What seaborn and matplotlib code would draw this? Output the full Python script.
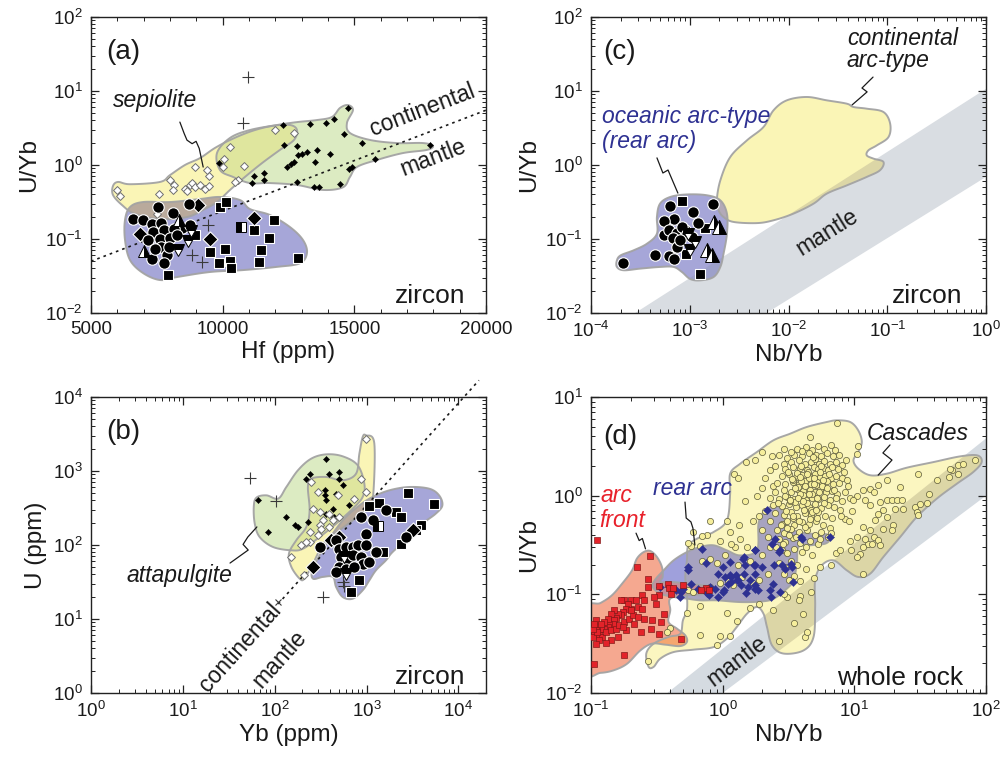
import numpy as np
import matplotlib
matplotlib.use("Agg")
import matplotlib.pyplot as plt
from matplotlib.patches import Polygon
from matplotlib.ticker import LogLocator, FuncFormatter, MultipleLocator, NullFormatter
import seaborn as sns

sns.set_theme(style="ticks")
plt.rcParams["font.family"] = ["Liberation Sans", "DejaVu Sans"]
plt.rcParams["mathtext.fontset"] = "custom"
plt.rcParams["mathtext.rm"] = "Liberation Sans"
plt.rcParams["mathtext.it"] = "Liberation Sans:italic"
plt.rcParams["mathtext.default"] = "regular"

# ----------------------------------------------------------------------------
# (a) zircon U/Yb vs Hf
# ----------------------------------------------------------------------------
a_circle_hf = [7543, 8732, 8099, 6594, 6973, 7328, 7657, 8453, 8770, 7353, 7758,
               8137, 7163, 7606, 8011, 8264, 7657, 7315, 7884, 7783, 7441, 7947]
a_circle_uyb = [0.27, 0.294, 0.227, 0.185, 0.179, 0.158, 0.164, 0.142, 0.153, 0.124, 0.131,
                0.138, 0.096, 0.101, 0.104, 0.112, 0.078, 0.054, 0.060, 0.047, 0.074, 0.078]
a_square_hf = [9908, 10136, 8959, 9503, 10098, 11958, 11173, 11755, 11452, 9845, 10288,
               10326, 11363, 12843, 7910]
a_square_uyb = [0.27, 0.316, 0.112, 0.0667, 0.074, 0.182, 0.134, 0.103, 0.0718, 0.047, 0.050,
                0.041, 0.049, 0.056, 0.033]
a_half_hf = [10705]
a_half_uyb = [0.145]
a_diamond_hf = [6872, 9503, 11173, 9048]
a_diamond_uyb = [0.118, 0.101, 0.194, 0.285]
a_up_hf = [8327, 7024]
a_up_uyb = [0.179, 0.069]
a_down_hf = [8795, 8669, 8289]
a_down_uyb = [0.128, 0.094, 0.072]
a_plus_hf = [10946, 10756, 9428, 8833, 9212]
a_plus_uyb = [15.5, 3.7, 0.156, 0.060, 0.049]
a_sep_hf = [5987, 6088, 7568, 8011, 8137, 8099, 8580, 8770, 8833, 8959, 9339, 9465, 9465,
            9402, 8959, 10035, 10010, 10288, 10794, 10566, 10477, 11995, 12691, 9149, 8643, 7505]
a_sep_uyb = [0.465, 0.378, 0.41, 0.62, 0.53, 0.455, 0.479, 0.531, 0.571, 0.505, 0.479, 0.515, 0.703,
             0.847, 0.94, 1.22, 0.94, 1.75, 0.96, 0.62, 0.59, 2.94, 2.7, 0.53, 0.44, 0.22]
a_att_hf = [9845, 11199, 11553, 11110, 11553, 12286, 12312, 12818, 12438, 12590, 12691,
            12856, 13007, 12818, 13197, 13298, 13577, 13513, 13931, 14209, 14778, 14589,
            14905, 15284, 15790, 17878, 13450, 13640, 14437, 14816, 14083]
a_att_uyb = [1.06, 0.70, 0.78, 0.57, 0.62, 3.43, 1.88, 1.79, 0.94, 1.02, 1.10,
             1.35, 1.42, 0.59, 1.5, 3.62, 1.61, 1.10, 3.7, 4.23, 5.96, 2.65,
             0.94, 1.98, 1.22, 1.85, 0.50, 0.50, 0.56, 0.89, 1.42]
a_blue_hf = [6291, 6481, 6974, 8000, 9139, 9898, 10658, 11037, 11797, 12556, 13050,
             13202, 12936, 12062, 10771, 9518, 8265, 7620, 6974, 6481, 6291]
a_blue_uyb = [0.181, 0.27, 0.316, 0.316, 0.347, 0.37, 0.336, 0.254, 0.211, 0.145, 0.097,
              0.065, 0.047, 0.042, 0.038, 0.0358, 0.0306, 0.0279, 0.0347, 0.052, 0.097]
a_yel_hf = [5835, 6025, 6481, 7620, 8000, 8569, 9139, 9708, 10354, 11113, 11873, 12556, 12822,
            12708, 12176, 11493, 10847, 10278, 9784, 9253, 8645, 7620, 6671, 6177, 5835]
a_yel_uyb = [0.52, 0.59, 0.55, 0.59, 0.73, 1.0, 1.24, 1.70, 2.24, 2.88, 3.37, 3.47, 2.97,
             2.18, 1.60, 1.06, 0.69, 0.46, 0.316, 0.247, 0.198, 0.186, 0.218, 0.288, 0.394]
a_grn_hf = [9784, 10278, 11037, 12062, 12822, 13581, 14151, 14455, 14758, 14948, 14720, 14834,
            15594, 16619, 17606, 17986, 17758, 16847, 15860, 15100, 14834, 14568, 13809, 12822,
            11797, 11037, 10392, 9898]
a_grn_uyb = [1.45, 2.32, 2.97, 3.47, 3.8, 4.05, 4.46, 5.9, 6.46, 5.53, 3.7, 2.71,
             2.18, 1.98, 1.98, 1.81, 1.6, 1.45, 1.17, 0.94, 0.69, 0.50, 0.46, 0.537,
             0.57, 0.57, 0.69, 0.855]
a_line_hf = [5000, 20000]
a_line_uyb = [0.05, 5.5]

# ----------------------------------------------------------------------------
# (b) zircon U vs Yb
# ----------------------------------------------------------------------------
b_circle_yb = [871, 1167, 1629, 988, 308, 467, 507, 600, 708, 802, 988, 1268,
               528, 625, 708, 871, 908, 1074, 507, 600, 738, 467, 2684]
b_circle_u = [239, 215, 294, 142, 94, 116, 89, 94, 94, 99, 99, 80.4,
              68.9, 62.1, 72.4, 68.9, 56, 58.9, 50.5, 47.9, 50.5, 43.2, 128]
b_square_yb = [2797, 5445, 1377, 1074, 2089, 2366, 3902, 3443, 2366, 1497, 836, 679]
b_square_u = [505, 362, 370, 334, 279, 239, 185, 158, 104, 80.4, 33.3, 23.2]
b_half_yb = [1322]
b_half_u = [179]
b_diamond_yb = [261, 412, 507, 3170]
b_diamond_u = [50.5, 116, 128, 161]
b_down_yb = [575, 600]
b_down_u = [68.9, 41]
b_plus_yb = [53.5, 104, 334, 551, 575]
b_plus_u = [813, 389, 19.8, 31.6, 27.6]
b_cross_yb = [109]
b_cross_u = [17]
b_sep_yb = [988, 250, 295, 487, 738, 871, 988, 261, 308, 395, 507, 334, 308, 321,
            240, 295, 240, 195, 221, 152, 211, 430, 395]
b_sep_u = [2735, 710, 520, 469, 423, 787, 520, 310, 279, 265, 239, 215, 185, 166,
           150, 135, 110, 99, 110, 68.9, 38.9, 215, 175]
b_att_yb = [364, 240, 395, 507, 507, 551, 221, 349, 349, 364, 467, 430, 364, 165,
            179, 134, 65.9, 84.7, 230, 448, 651]
b_att_u = [1468, 920, 920, 968, 787, 640, 787, 548, 469, 402, 494, 310, 265, 185,
           175, 239, 402, 150, 205, 239, 343]
b_grn_yb = [59.2, 63.2, 81.2, 109, 134, 179, 250, 364, 551, 802, 947, 908, 708, 467,
            308, 203, 152, 95.9, 68.7, 60.7]
b_grn_u = [327, 436, 469, 423, 608, 1021, 1468, 1679, 1578, 1194, 675, 446, 310, 194,
           128, 89, 84.7, 94, 128, 194]
b_yel_yb = [988, 1217, 1167, 988, 708, 507, 364, 308, 261, 211, 187, 152, 143, 172,
            221, 240, 230, 250, 364, 551, 769, 836, 908]
b_yel_u = [3034, 2339, 402, 294, 215, 158, 116, 84.7, 56, 35.1, 35.1, 50.5, 76.4, 116,
           175, 294, 608, 787, 830, 748, 920, 1714, 2877]
b_blue_yb = [261, 364, 551, 836, 1167, 1770, 2917, 4808, 6170, 6700, 5675, 4067, 2917,
             1923, 1629, 1268, 1074, 908, 708, 551, 467, 430, 334, 261]
b_blue_u = [47.9, 104, 215, 343, 446, 548, 608, 577, 469, 343, 265, 194, 128,
            80.4, 62.1, 45.5, 33.3, 24.4, 18.8, 19.8, 27, 37, 37, 35.1]
b_line_yb = [109, 16750]
b_line_u = [16, 16800]

# ----------------------------------------------------------------------------
# (c) zircon U/Yb vs Nb/Yb
# ----------------------------------------------------------------------------
c_circle_nbyb = [2.09e-4, 4.44e-4, 6.2e-4, 6.97e-4, 6.35e-4, 6.97e-4, 5.43e-4, 5.52e-4, 6.1e-4,
                 7.41e-4, 6.76e-4, 7.41e-4, 8.87e-4, 1.08e-3, 1.21e-3, 1.7e-3, 8.33e-4,
                 9.35e-4, 1.05e-3, 8.0e-4]
c_circle_uyb = [0.0474, 0.0614, 0.0596, 0.0542, 0.279, 0.185, 0.175, 0.115, 0.131,
                0.122, 0.104, 0.078, 0.131, 0.229, 0.164, 0.294, 0.145,
                0.118, 0.106, 0.098]
c_square_nbyb = [8.4e-4, 1.42e-3, 1.28e-3, 9.14e-4]
c_square_uyb = [0.323, 0.141, 0.034, 0.062]
c_up_nbyb = [1.74e-3, 1.96e-3, 1.49e-3, 1.68e-3]
c_up_uyb = [0.17, 0.145, 0.0703, 0.0602]
c_down_nbyb = [9.7e-4, 1.14e-3, 1.01e-3]
c_down_uyb = [0.118, 0.091, 0.0703]
c_blue_nbyb = [1.83e-4, 2.0e-4, 2.7e-4, 3.69e-4, 4.65e-4, 4.65e-4, 5.0e-4, 6.35e-4, 9.35e-4,
               1.49e-3, 2.04e-3, 2.38e-3, 2.38e-3, 2.2e-3, 2.04e-3, 1.74e-3, 1.28e-3,
               1.01e-3, 8.33e-4, 6.86e-4, 5.0e-4, 3.16e-4, 2.14e-4, 1.83e-4]
c_blue_uyb = [0.0515, 0.0602, 0.0703, 0.0865, 0.118, 0.198, 0.3, 0.37, 0.40,
              0.39, 0.333, 0.22, 0.118, 0.0634, 0.0419, 0.0306, 0.0276,
              0.0288, 0.0358, 0.0419, 0.0419, 0.0398, 0.0378, 0.0419]
c_yel_nbyb = [1.88e-3, 2.04e-3, 2.57e-3, 3.79e-3, 5.58e-3, 7.05e-3, 9.62e-3, 1.53e-2, 2.44e-2,
              3.89e-2, 4.55e-2, 6.2e-2, 9.15e-2, 0.107, 0.103, 7.83e-2, 6.45e-2, 6.2e-2,
              7.24e-2, 9.15e-2, 8.45e-2, 6.2e-2, 3.89e-2, 2.44e-2, 1.79e-2, 1.12e-2,
              7.05e-3, 4.78e-3, 2.78e-3, 2.2e-3, 1.96e-3]
c_yel_uyb = [0.333, 0.62, 1.28, 2.15, 3.26, 5.48, 7.48, 8.3, 7.48,
             6.74, 6.08, 5.77, 5.2, 3.62, 2.39, 1.84, 1.58, 1.35,
             1.22, 1.10, 0.85, 0.69, 0.53, 0.41, 0.3, 0.22,
             0.179, 0.164, 0.17, 0.198, 0.244]
c_band_nbyb = [2.8e-4, 1.0, 1.0, 6.0e-3]
c_band_uyb = [0.01, 10.7, 0.69, 0.01]

# ----------------------------------------------------------------------------
# (d) whole rock U/Yb vs Nb/Yb
# ----------------------------------------------------------------------------
cascades_nbyb = [
    7.4, 4.6, 2.9, 2.0, 1.5, 1.75, 2.35, 1.21, 1.3, 1.48, 1.82,
    1.08, 1.14, 1.33, 1.36, 0.76, 0.67, 0.57, 0.9, 1.25, 1.53, 0.55, 0.7,
    0.67, 0.54, 0.40, 0.38, 0.27, 0.67, 0.96, 0.9, 1.14, 1.28, 1.6, 1.9,
    2.43, 2.7, 3.5, 4.1, 4.2, 4.35, 3.9, 3.8, 3.07, 2.9, 3.3, 3.9,
    4.7, 4.9, 5.5, 6.6, 7.3, 7.8, 9.2, 0.55, 0.6, 0.8, 0.95, 1.1,
    1.2, 1.4, 1.7, 1.9, 2.2, 1.3, 1.6, 2.0, 2.3, 0.8, 1.05, 0.95,
    1.15, 0.6, 0.8, 0.7, 2.1, 2.3, 2.0, 2.5, 2.7, 1.9, 2.1, 1.7,
    2.0, 2.2, 1.07,
    3.7, 4.3, 4.8, 5.3, 5.9, 6.6, 7.1,
    3.1, 3.5, 4.0, 4.5, 5.1, 5.6, 6.2, 6.9, 7.6,
    2.9, 3.3, 3.8, 4.2, 4.7, 5.0, 5.4, 5.9, 6.5, 7.2, 8.0,
    3.0, 3.4, 3.9, 4.4, 4.9, 5.3, 5.8, 6.3, 6.8, 7.5, 8.4,
    2.8, 3.2, 3.6, 4.0, 4.5, 5.0, 5.5, 6.0, 6.6, 7.3, 8.1, 8.8,
    2.4, 2.6, 3.0, 3.4, 3.8, 4.2, 4.7, 5.2, 5.7, 6.2, 6.9, 7.7,
    2.5, 2.9, 3.3, 3.7, 4.1, 4.6, 5.0, 5.5, 6.1, 6.8, 7.4, 8.5,
    2.3, 2.7, 3.1, 3.5, 3.9, 4.3, 4.8, 5.3, 5.9, 6.5, 7.2, 8.0,
    2.4, 2.8, 3.2, 3.6, 4.0, 4.5, 5.0, 5.6, 6.3, 7.0, 7.8,
    2.5, 2.9, 3.3, 3.7, 4.2, 4.7, 5.3, 6.0, 6.8, 8.5,
    2.3, 2.8, 3.1, 3.5, 4.0, 4.5, 5.1, 5.8, 6.5,
    2.6, 2.9, 3.3, 3.8, 4.4, 5.0, 5.6, 6.3,
    2.7, 3.0, 3.4, 3.9, 4.6, 5.3,
    2.8, 3.1, 3.5, 4.0, 4.8,
    2.7, 3.0, 3.3, 3.7, 4.3, 2.9, 3.2, 3.5,
    3.15, 3.45, 3.75, 4.1, 4.35, 4.65, 5.15, 5.45, 3.55, 3.85, 4.15, 4.55, 4.85, 5.25, 3.25, 3.95, 4.75, 5.65,
    8.9, 9.3, 9.6, 8.7, 9.1,
    3.35, 3.65, 3.95, 4.25, 4.55, 4.95, 5.35, 5.75, 6.15,
    2.95, 3.25, 3.55, 3.85, 4.45, 4.9, 5.6, 6.4, 7.0,
    2.65, 3.05, 3.4, 3.75, 4.05, 4.4, 4.8, 5.2, 5.9,
    2.75, 3.1, 3.45, 3.8, 4.2, 4.6, 5.1,
    2.55, 2.85, 3.2, 3.6, 4.3, 5.5, 6.7, 7.9, 3.3, 4.0,
    10.4, 10.6, 30.7, 42.8, 52.7, 54.9, 61.7, 67.3, 82.6, 61.7, 53.3, 22.3,
    17.6, 15.2, 13.2, 14.0, 11.7, 10.4, 12.1, 9.85, 13.2, 15.7, 17.6, 19.2,
    21.0, 22.9, 20.4, 23.6, 16.6, 15.2, 14.4, 17.6, 19.8, 19.2, 16.6, 11.7,
    13.2, 14.0, 15.2, 12.8, 11.7, 12.1, 11.1, 11.7, 13.6, 15.7, 10.4, 28.9,
    31.6, 35.5, 29.8, 30.7, 36.6, 9.5, 10.4,
]
cascades_uyb = [
    5.5, 3.9, 3.0, 2.8, 2.2, 2.3, 2.55, 1.67, 1.5, 0.88, 1.0,
    0.56, 0.43, 0.5, 0.36, 0.4, 0.31, 0.31, 0.21, 0.3, 0.3, 0.33, 0.39,
    0.077, 0.064, 0.046, 0.042, 0.021, 0.039, 0.038, 0.031, 0.038, 0.054, 0.073, 0.08,
    0.07, 0.034, 0.051, 0.063, 0.037, 0.042, 0.097, 0.087, 0.093, 0.1, 0.14, 0.135,
    0.105, 0.148, 0.19, 0.2, 0.26, 0.28, 0.35, 0.11, 0.105, 0.12, 0.13, 0.135,
    0.125, 0.15, 0.13, 0.14, 0.16, 0.2, 0.22, 0.25, 0.3, 0.23, 0.25, 0.35,
    0.32, 0.43, 0.55, 0.22, 1.5, 1.8, 1.2, 2.0, 2.6, 0.62, 0.7, 0.55,
    0.45, 0.38, 0.064,
    3.0, 3.1, 2.9, 3.2, 3.0, 3.3, 2.9,
    2.4, 2.6, 2.5, 2.7, 2.6, 2.5, 2.7, 2.5, 2.6,
    2.1, 2.2, 2.3, 2.1, 2.2, 2.35, 2.1, 2.25, 2.1, 2.2, 2.05,
    1.85, 1.95, 1.9, 1.8, 1.95, 1.85, 1.9, 1.8, 1.95, 1.85, 1.75,
    1.6, 1.65, 1.55, 1.62, 1.58, 1.65, 1.55, 1.6, 1.52, 1.6, 1.5, 1.45,
    1.25, 1.35, 1.3, 1.38, 1.3, 1.4, 1.32, 1.38, 1.3, 1.42, 1.3, 1.35,
    1.1, 1.15, 1.1, 1.18, 1.12, 1.15, 1.08, 1.17, 1.1, 1.12, 1.05, 1.1,
    0.95, 0.92, 0.98, 0.93, 0.97, 0.9, 0.95, 0.92, 0.96, 0.9, 0.95, 0.88,
    0.8, 0.78, 0.82, 0.76, 0.8, 0.77, 0.82, 0.75, 0.8, 0.76, 0.72,
    0.66, 0.64, 0.68, 0.62, 0.66, 0.63, 0.68, 0.62, 0.6, 0.58,
    0.55, 0.52, 0.56, 0.5, 0.54, 0.52, 0.56, 0.5, 0.47,
    0.45, 0.42, 0.46, 0.43, 0.45, 0.4, 0.43, 0.38,
    0.36, 0.34, 0.37, 0.33, 0.35, 0.32,
    0.28, 0.26, 0.29, 0.27, 0.25,
    0.21, 0.19, 0.22, 0.2, 0.18, 0.16, 0.14, 0.155,
    1.75, 1.45, 1.22, 1.02, 0.85, 0.72, 1.28, 1.72, 0.87, 1.05, 0.71, 1.5, 2.45, 0.6, 0.88, 2.0, 1.04, 1.25,
    1.25, 0.95, 0.7, 2.3, 0.55,
    1.48, 1.7, 1.42, 1.25, 1.05, 1.3, 1.1, 1.45, 1.2,
    1.0, 0.9, 1.2, 1.55, 1.75, 1.5, 2.0, 1.65, 1.15,
    0.85, 0.7, 0.6, 0.95, 0.88, 1.65, 0.68, 0.95, 0.85,
    0.5, 0.47, 0.62, 0.55, 0.48, 0.58, 0.72,
    0.3, 0.32, 0.4, 0.38, 0.3, 0.36, 0.42, 0.62, 2.8, 2.85,
    2.66, 3.2, 1.67, 1.45, 1.55, 1.81, 2.03, 2.11, 2.28, 1.67, 1.88, 1.22,
    1.43, 1.27, 1.18, 1.09, 1.13, 1.0, 0.897, 0.897, 0.8, 0.86, 0.91, 0.897,
    0.91, 0.91, 0.74, 0.74, 0.71, 0.657, 0.562, 0.61, 0.5, 0.446, 0.463, 0.481,
    0.446, 0.381, 0.352, 0.326, 0.302, 0.366, 0.258, 0.162, 0.326, 0.314, 0.381, 0.767,
    0.83, 0.84, 0.68, 0.63, 1.05, 0.28, 0.24,
]
rear_arc_nbyb = [2.18, 6.55, 3.99, 2.36, 2.74, 1.77, 1.44, 1.72, 1.99, 2.82, 3.35, 1.14, 1.44,
                 1.28, 1.62, 2.3, 2.74, 1.77, 1.02, 0.782, 0.544, 0.544, 0.332, 0.445, 0.485,
                 0.471, 0.499, 0.577, 0.648, 0.795, 0.868, 0.759, 0.92, 1.0, 1.1, 0.92, 1.04,
                 1.16, 1.27, 1.16, 1.31, 1.38, 1.56, 1.75, 1.85, 1.51, 2.34, 1.75, 2.41, 2.7,
                 1.75, 1.47, 1.43, 1.75, 3.31, 3.41, 2.45, 2.95, 3.94, 1.13, 1.0, 2.5, 0.695, 0.746]
rear_arc_uyb = [0.71, 0.381, 0.366, 0.326, 0.279, 0.279, 0.239, 0.197, 0.189, 0.197, 0.189, 0.156, 0.162,
                0.139, 0.139, 0.11, 0.106, 0.114, 0.11, 0.098, 0.189, 0.175, 0.119, 0.11, 0.106,
                0.094, 0.114, 0.128, 0.114, 0.119, 0.114, 0.102, 0.094, 0.106, 0.128, 0.162, 0.15,
                0.15, 0.156, 0.133, 0.139, 0.123, 0.119, 0.123, 0.11, 0.102, 0.094, 0.162, 0.128, 0.268,
                0.279, 0.197, 0.23, 0.197, 0.205, 0.133, 0.197, 0.182, 0.381, 0.213, 0.189, 0.366, 0.29, 0.21]
arc_front_nbyb = [0.178, 0.201, 0.219, 0.246, 0.254, 0.269, 0.33, 0.382, 0.405, 0.311,
                  0.226, 0.246, 0.201, 0.19, 0.184, 0.174, 0.169, 0.159, 0.155, 0.150,
                  0.146, 0.138, 0.134, 0.126, 0.119, 0.112, 0.109, 0.106, 0.103, 0.116,
                  0.122, 0.130, 0.142, 0.155, 0.164, 0.179, 0.196, 0.207, 0.226, 0.254,
                  0.293, 0.34, 0.36, 0.184, 0.159, 0.142, 0.130, 0.116, 0.109, 0.179,
                  0.239, 0.285, 0.33, 0.106, 0.109, 0.174, 0.213, 0.201, 0.111, 0.282,
                  0.222, 0.169, 0.150, 0.142, 0.134, 0.126, 0.119, 0.112, 0.103, 0.105,
                  0.393, 0.417, 0.746, 0.787, 0.685, 0.496, 0.272, 0.33, 0.302, 0.482]
arc_front_uyb = [0.0885, 0.087, 0.0885, 0.099, 0.087, 0.119, 0.121, 0.128, 0.100, 0.0805,
                 0.0745, 0.0717, 0.0717, 0.0805, 0.0717, 0.0662, 0.0613, 0.0637, 0.058, 0.0546,
                 0.0505, 0.050, 0.0467, 0.045, 0.045, 0.0467, 0.0432, 0.040, 0.037, 0.0385,
                 0.037, 0.0415, 0.0432, 0.045, 0.0486, 0.0525, 0.0568, 0.0613, 0.059, 0.0568,
                 0.0546, 0.0525, 0.0637, 0.0432, 0.037, 0.0342, 0.032, 0.0342, 0.0316, 0.0241,
                 0.0415, 0.045, 0.0394, 0.0198, 0.0546, 0.0467, 0.0505, 0.069, 0.358, 0.245,
                 0.189, 0.087, 0.0689, 0.0637, 0.0568, 0.0525, 0.0505, 0.0415, 0.045, 0.05,
                 0.117, 0.115, 0.115, 0.111, 0.111, 0.123, 0.144, 0.098, 0.094, 0.0355]
d_yel_nbyb = [0.274, 0.263, 0.299, 0.388, 0.476, 0.499, 0.535, 0.535, 0.52, 0.535, 0.551, 0.676,
              0.853, 1.077, 1.14, 1.14, 1.36, 1.82, 2.43, 3.26, 4.36, 6.18, 7.36, 9.29, 10.7,
              11.4, 10.7, 9.85, 10.7, 13.2, 17.6, 25, 39.9, 63.5, 85.9, 92.7, 80.2, 60, 42.3,
              29.8, 22.3, 16.6, 13.2, 10.7, 8.77, 6.95, 5.66, 5.04, 5.04, 4.9, 4.11, 2.9, 2.37,
              2.17, 2.04, 1.82, 1.53, 1.28, 1.077, 0.853, 0.601, 0.424, 0.336, 0.299]
d_yel_uyb = [0.0184, 0.0251, 0.0316, 0.037, 0.0399, 0.0545, 0.0689, 0.1016, 0.15, 0.221, 0.314, 0.381,
             0.428, 0.562, 1.05, 1.67, 2.11, 2.77, 3.64, 4.25, 4.97, 5.58, 5.8, 5.58, 4.59,
             3.5, 2.77, 2.28, 1.88, 1.61, 1.67, 1.92, 2.19, 2.5, 2.56, 2.19, 1.74, 1.32, 0.933,
             0.608, 0.381, 0.239, 0.162, 0.15, 0.175, 0.221, 0.197, 0.139, 0.0745, 0.037, 0.027, 0.0251, 0.0304,
             0.0467, 0.0637, 0.0745, 0.0637, 0.0467, 0.0356, 0.0292, 0.0275, 0.026, 0.0223, 0.0184]
d_red_nbyb = [0.09, 0.118, 0.144, 0.172, 0.205, 0.223, 0.251, 0.282, 0.317, 0.346, 0.35, 0.336,
              0.424, 0.601, 0.805, 0.853, 0.759, 0.535, 0.4, 0.4, 0.388, 0.45, 0.52, 0.535,
              0.476, 0.366, 0.29, 0.237, 0.188, 0.149, 0.118, 0.09]
d_red_uyb = [0.0689, 0.0817, 0.0977, 0.128, 0.175, 0.23, 0.268, 0.275, 0.239, 0.189, 0.15, 0.133,
             0.133, 0.126, 0.12, 0.11, 0.1016, 0.0977, 0.0904, 0.0689, 0.0525, 0.0449, 0.0384, 0.0329,
             0.0299, 0.0309, 0.0316, 0.027, 0.0198, 0.017, 0.016, 0.0163]
d_pur_nbyb = [0.305, 0.356, 0.424, 0.535, 0.676, 0.853, 1.077, 1.36, 1.82, 1.87, 2.04, 2.3, 2.65,
              2.9, 2.98, 3.45, 4.62, 6.18, 6.55, 6.0, 4.62, 3.77, 3.66, 3.45, 3.07, 2.43, 1.93,
              1.36, 0.904, 0.676, 0.535, 0.424, 0.336, 0.295]
d_pur_uyb = [0.139, 0.175, 0.221, 0.268, 0.302, 0.314, 0.279, 0.248, 0.279, 0.52, 0.682, 0.767, 0.767,
             0.657, 0.52, 0.446, 0.412, 0.406, 0.366, 0.326, 0.314, 0.302, 0.205, 0.139, 0.114, 0.09, 0.0845,
             0.0835, 0.0869, 0.0869, 0.0904, 0.094, 0.1016, 0.1186]
d_band_nbyb = [0.38, 100, 100, 1.0]
d_band_uyb = [0.01, 3.8, 1.0, 0.01]

# ----------------------------------------------------------------------------
# colours
# ----------------------------------------------------------------------------
ZIRC_BLUE = "#a6a6d8"
YELLOW = "#faf5b6"
GREEN = "#dcebc2"
YEL_ON_BLUE = "#b9aa9c"
YEL_ON_GREEN = "#dfe69e"
GRN_ON_BLUE = "#aab4b6"
BAND_C = "#d9dde2"
BAND_D = "#d5dbe1"
YEL_ON_BAND = "#dcd6a6"
BLUE_ON_BAND = "#9da0ca"
YEL_ON_ZBLUE_C = "#b3aab8"
D_YELLOW = "#fbf6c0"
D_RED = "#f5a890"
D_PURPLE = "#9fa0dc"
PUR_ON_YEL = "#a7a3c0"
RED_ON_YEL = "#f5a66f"
RED_ON_PUR = "#c4909c"
EDGE = "#a3a3a3"
INK = "#1a1a1a"
NAVY = "#2e3192"
RED_TXT = "#e8212b"


def smooth_closed(xs, ys, xlog, ylog, n=14):
    """Closed Catmull-Rom outline through the given vertices (in axis space)."""
    x = np.log10(np.asarray(xs, float)) if xlog else np.asarray(xs, float)
    y = np.log10(np.asarray(ys, float)) if ylog else np.asarray(ys, float)
    P = np.column_stack([x, y])
    m = len(P)
    t = np.linspace(0.0, 1.0, n, endpoint=False)[:, None]
    segs = []
    for i in range(m):
        p0, p1, p2, p3 = P[(i - 1) % m], P[i], P[(i + 1) % m], P[(i + 2) % m]
        segs.append(0.5 * (2 * p1 + (p2 - p0) * t
                           + (2 * p0 - 5 * p1 + 4 * p2 - p3) * t ** 2
                           + (3 * p1 - p0 - 3 * p2 + p3) * t ** 3))
    S = np.vstack(segs)
    if xlog:
        S[:, 0] = 10 ** S[:, 0]
    if ylog:
        S[:, 1] = 10 ** S[:, 1]
    return S


def fill_region(ax, verts, color, z=1.0):
    p = Polygon(verts, closed=True, facecolor=color, edgecolor="none", zorder=z)
    ax.add_patch(p)
    return p


def fill_overlap(ax, verts, clip_patch, color, z=1.5):
    p = Polygon(verts, closed=True, facecolor=color, edgecolor="none", zorder=z)
    ax.add_patch(p)
    p.set_clip_path(clip_patch)
    return p


def outline(ax, verts, z=2.0):
    ax.add_patch(Polygon(verts, closed=True, fill=False, edgecolor=EDGE,
                         linewidth=1.4, zorder=z, alpha=0.95))


def dots(ax, x, y, marker, s, fc, ec, lw, z=5):
    sns.scatterplot(x=x, y=y, ax=ax, marker=marker, s=s, color=fc,
                    edgecolor=ec, linewidth=lw, zorder=z, legend=False)


def half_marker(ax, x, y, marker, ms, fill, z=6):
    ax.plot(x, y, ls="none", marker=marker, ms=ms, fillstyle=fill,
            markerfacecolor="black", markerfacecoloralt="white",
            markeredgecolor="black", markeredgewidth=0.7, zorder=z)


def pluses(ax, x, y, z=5):
    ax.plot(x, y, ls="none", marker="+", ms=9, mew=0.8, color="#3a3a3a", zorder=z)


def squiggle(ax, pts):
    xs, ys = zip(*pts)
    ax.plot(xs, ys, transform=ax.transAxes, color=INK, lw=0.9, zorder=7,
            solid_capstyle="round", solid_joinstyle="round")


def pow10(v, pos):
    return r"$10^{%d}$" % int(round(np.log10(v)))


def log_axis(axis):
    axis.set_major_locator(LogLocator(base=10, numticks=20))
    axis.set_minor_locator(LogLocator(base=10, subs=np.arange(2, 10), numticks=60))
    axis.set_minor_formatter(NullFormatter())
    axis.set_major_formatter(FuncFormatter(pow10))


def style(ax):
    for sp in ax.spines.values():
        sp.set_visible(True)
        sp.set_linewidth(1.0)
        sp.set_color("#222222")
    ax.tick_params(which="both", direction="in", top=True, right=True,
                   colors="#222222", labelcolor=INK)
    ax.tick_params(which="major", length=5.5, width=0.9, labelsize=13.5, pad=6)
    ax.tick_params(which="minor", length=3.0, width=0.7)
    ax.set_facecolor("white")


def label_text(ax, x, y, s, size=16.5, **kw):
    ax.text(x, y, s, transform=ax.transAxes, fontsize=size, color=kw.pop("color", INK),
            zorder=8, **kw)


# zircon symbol sizes (points^2)
S_CIRC, S_SQ, S_DIA = 68, 60, 58

W, H = 1004, 770
fig = plt.figure(figsize=(W / 100, H / 100), dpi=100)


def axes_at(left_px, top_px):
    return fig.add_axes([left_px / W, 1 - (top_px + 296) / H, 395 / W, 296 / H])


ax_a = axes_at(91, 17)
ax_c = axes_at(591, 17)
ax_b = axes_at(91, 397)
ax_d = axes_at(591, 397)

# ----------------------------- panel (a) ------------------------------------
ax = ax_a
ax.set_yscale("log")
v_blue = smooth_closed(a_blue_hf, a_blue_uyb, False, True)
v_grn = smooth_closed(a_grn_hf, a_grn_uyb, False, True)
v_yel = smooth_closed(a_yel_hf, a_yel_uyb, False, True)
p_blue = fill_region(ax, v_blue, ZIRC_BLUE)
p_grn = fill_region(ax, v_grn, GREEN)
fill_region(ax, v_yel, YELLOW, z=1.1)
fill_overlap(ax, v_yel, p_blue, YEL_ON_BLUE)
fill_overlap(ax, v_yel, p_grn, YEL_ON_GREEN)
for v in (v_blue, v_grn, v_yel):
    outline(ax, v)
ax.plot(a_line_hf, a_line_uyb, ls=(0, (1.6, 2.4)), color=INK, lw=1.2, zorder=3)
dots(ax, a_att_hf, a_att_uyb, "D", 10, "black", "black", 0.3)
dots(ax, a_sep_hf, a_sep_uyb, "D", 16, "white", "#6f6f6f", 0.7)
dots(ax, a_square_hf, a_square_uyb, "s", S_SQ, "black", "white", 0.8)
dots(ax, a_diamond_hf, a_diamond_uyb, "D", S_DIA, "black", "white", 0.8)
dots(ax, a_circle_hf, a_circle_uyb, "o", S_CIRC, "black", "white", 0.8)
half_marker(ax, a_half_hf, a_half_uyb, "s", 7.6, "left")
half_marker(ax, a_up_hf, a_up_uyb, "^", 9, "right")
half_marker(ax, a_down_hf, a_down_uyb, "v", 9, "top")
pluses(ax, a_plus_hf, a_plus_uyb)
ax.set_xlim(5000, 20000)
ax.set_ylim(1e-2, 1e2)
ax.xaxis.set_major_locator(MultipleLocator(5000))
ax.xaxis.set_minor_locator(MultipleLocator(1000))
ax.xaxis.set_major_formatter(FuncFormatter(lambda v, p: "%d" % v))
log_axis(ax.yaxis)
style(ax)
ax.set_xlabel("Hf (ppm)", fontsize=17.5, color=INK, labelpad=2)
ax.set_ylabel("U/Yb", fontsize=17.5, color=INK, labelpad=4)
label_text(ax, 0.081, 0.882, "(a)", size=20, ha="center", va="center")
label_text(ax, 0.056, 0.696, "sepiolite", style="italic", ha="left", va="baseline")
label_text(ax, 0.84, 0.686, "continental", rotation=21, rotation_mode="anchor",
           ha="center", va="center")
label_text(ax, 0.866, 0.524, "mantle", rotation=21, rotation_mode="anchor",
           ha="center", va="center")
label_text(ax, 0.947, 0.034, "zircon", size=19, ha="right", va="baseline")
squiggle(ax, [(0.225, 0.645), (0.236, 0.606), (0.243, 0.584), (0.256, 0.572),
              (0.266, 0.580), (0.274, 0.556), (0.284, 0.493)])

# ----------------------------- panel (b) ------------------------------------
ax = ax_b
ax.set_xscale("log")
ax.set_yscale("log")
v_grn = smooth_closed(b_grn_yb, b_grn_u, True, True)
v_yel = smooth_closed(b_yel_yb, b_yel_u, True, True)
v_blue = smooth_closed(b_blue_yb, b_blue_u, True, True)
p_blue = fill_region(ax, v_blue, ZIRC_BLUE)
p_grn = fill_region(ax, v_grn, GREEN)
fill_region(ax, v_yel, YELLOW, z=1.1)
fill_overlap(ax, v_grn, p_blue, GRN_ON_BLUE)
fill_overlap(ax, v_yel, p_blue, YEL_ON_BLUE, z=1.6)
fill_overlap(ax, v_yel, p_grn, YEL_ON_GREEN, z=1.6)
for v in (v_blue, v_grn, v_yel):
    outline(ax, v)
ax.plot(b_line_yb, b_line_u, ls=(0, (1.6, 2.4)), color=INK, lw=1.2, zorder=3, clip_on=False)
dots(ax, b_att_yb, b_att_u, "D", 10, "black", "black", 0.3)
dots(ax, b_sep_yb, b_sep_u, "D", 16, "white", "#6f6f6f", 0.7)
dots(ax, b_square_yb, b_square_u, "s", S_SQ, "black", "white", 0.8)
dots(ax, b_diamond_yb, b_diamond_u, "D", S_DIA, "black", "white", 0.8)
dots(ax, b_circle_yb, b_circle_u, "o", S_CIRC, "black", "white", 0.8)
half_marker(ax, b_half_yb, b_half_u, "s", 7.6, "left")
half_marker(ax, b_down_yb, b_down_u, "v", 9, "top")
pluses(ax, b_plus_yb, b_plus_u)
ax.plot(b_cross_yb, b_cross_u, ls="none", marker="x", ms=5, mew=0.8, color="#3a3a3a", zorder=5)
ax.set_xlim(1, 2e4)
ax.set_ylim(1, 1e4)
log_axis(ax.xaxis)
log_axis(ax.yaxis)
style(ax)
ax.set_xlabel("Yb (ppm)", fontsize=17.5, color=INK, labelpad=2)
ax.set_ylabel("U (ppm)", fontsize=17.5, color=INK, labelpad=4)
label_text(ax, 0.081, 0.882, "(b)", size=20, ha="center", va="center")
label_text(ax, 0.089, 0.375, "attapulgite", style="italic", ha="left", va="baseline")
label_text(ax, 0.377, 0.153, "continental", rotation=48, rotation_mode="anchor",
           ha="center", va="center")
label_text(ax, 0.477, 0.114, "mantle", rotation=48, rotation_mode="anchor",
           ha="center", va="center")
label_text(ax, 0.947, 0.030, "zircon", size=19, ha="right", va="baseline")
squiggle(ax, [(0.42, 0.561), (0.397, 0.527), (0.385, 0.502), (0.398, 0.483), (0.352, 0.439)])

# ----------------------------- panel (c) ------------------------------------
ax = ax_c
ax.set_xscale("log")
ax.set_yscale("log")
v_band = np.column_stack([c_band_nbyb, c_band_uyb])
v_blue = smooth_closed(c_blue_nbyb, c_blue_uyb, True, True)
v_yel = smooth_closed(c_yel_nbyb, c_yel_uyb, True, True)
p_band = fill_region(ax, v_band, BAND_C, z=0.5)
p_blue = fill_region(ax, v_blue, ZIRC_BLUE)
fill_region(ax, v_yel, YELLOW, z=1.1)
fill_overlap(ax, v_blue, p_band, BLUE_ON_BAND)
fill_overlap(ax, v_yel, p_band, YEL_ON_BAND)
fill_overlap(ax, v_yel, p_blue, YEL_ON_ZBLUE_C)
for v in (v_blue, v_yel):
    outline(ax, v)
dots(ax, c_square_nbyb, c_square_uyb, "s", S_SQ, "black", "white", 0.8)
dots(ax, c_circle_nbyb, c_circle_uyb, "o", S_CIRC, "black", "white", 0.8)
half_marker(ax, c_up_nbyb, c_up_uyb, "^", 9.5, "right")
half_marker(ax, c_down_nbyb, c_down_uyb, "v", 9, "top")
ax.set_xlim(1e-4, 1)
ax.set_ylim(1e-2, 1e2)
log_axis(ax.xaxis)
log_axis(ax.yaxis)
style(ax)
ax.set_xlabel("Nb/Yb", fontsize=17.5, color=INK, labelpad=2)
ax.set_ylabel("U/Yb", fontsize=17.5, color=INK, labelpad=4)
label_text(ax, 0.073, 0.882, "(c)", size=20, ha="center", va="center")
label_text(ax, 0.648, 0.905, "continental", style="italic", ha="left", va="baseline")
label_text(ax, 0.648, 0.831, "arc-type", style="italic", ha="left", va="baseline")
label_text(ax, 0.028, 0.642, "oceanic arc-type", style="italic", ha="left", va="baseline", color=NAVY)
label_text(ax, 0.028, 0.557, "(rear arc)", style="italic", ha="left", va="baseline", color=NAVY)
label_text(ax, 0.597, 0.274, "mantle", rotation=32, rotation_mode="anchor",
           ha="center", va="center")
label_text(ax, 0.939, 0.034, "zircon", size=19, ha="right", va="baseline")
squiggle(ax, [(0.714, 0.797), (0.686, 0.760), (0.699, 0.747), (0.661, 0.703)])
squiggle(ax, [(0.167, 0.524), (0.182, 0.473), (0.195, 0.483), (0.220, 0.405)])

# ----------------------------- panel (d) ------------------------------------
ax = ax_d
ax.set_xscale("log")
ax.set_yscale("log")
v_band = np.column_stack([d_band_nbyb, d_band_uyb])
v_yel = smooth_closed(d_yel_nbyb, d_yel_uyb, True, True)
v_red = smooth_closed(d_red_nbyb, d_red_uyb, True, True)
v_pur = smooth_closed(d_pur_nbyb, d_pur_uyb, True, True)
p_band = fill_region(ax, v_band, BAND_D, z=0.5)
p_yel = fill_region(ax, v_yel, D_YELLOW)
p_red = fill_region(ax, v_red, D_RED, z=1.05)
p_pur = fill_region(ax, v_pur, D_PURPLE, z=1.1)
fill_overlap(ax, v_yel, p_band, YEL_ON_BAND)
fill_overlap(ax, v_red, p_yel, RED_ON_YEL)
fill_overlap(ax, v_pur, p_yel, PUR_ON_YEL, z=1.6)
fill_overlap(ax, v_red, p_pur, RED_ON_PUR, z=1.7)
for v in (v_yel, v_red, v_pur):
    outline(ax, v)
dots(ax, cascades_nbyb, cascades_uyb, "o", 20, "#f6ee9c", "#5c5a3c", 0.5)
dots(ax, rear_arc_nbyb, rear_arc_uyb, "D", 17, NAVY, NAVY, 0.3)
dots(ax, arc_front_nbyb, arc_front_uyb, "s", 18, "#e3232a", "#7a1515", 0.45)
ax.set_xlim(0.1, 100)
ax.set_ylim(1e-2, 10)
log_axis(ax.xaxis)
log_axis(ax.yaxis)
style(ax)
ax.set_xlabel("Nb/Yb", fontsize=17.5, color=INK, labelpad=2)
ax.set_ylabel("U/Yb", fontsize=17.5, color=INK, labelpad=4)
label_text(ax, 0.073, 0.865, "(d)", size=20, ha="center", va="center")
label_text(ax, 0.023, 0.645, "arc", style="italic", ha="left", va="baseline", color=RED_TXT)
label_text(ax, 0.020, 0.561, "front", style="italic", ha="left", va="baseline", color=RED_TXT)
label_text(ax, 0.157, 0.669, "rear arc", style="italic", ha="left", va="baseline", color=NAVY)
label_text(ax, 0.699, 0.855, "Cascades", style="italic", ha="left", va="baseline")
label_text(ax, 0.37, 0.108, "mantle", rotation=37, rotation_mode="anchor",
           ha="center", va="center")
label_text(ax, 0.942, 0.027, "whole rock", size=19, ha="right", va="baseline")
squiggle(ax, [(0.114, 0.540), (0.122, 0.515), (0.130, 0.522), (0.138, 0.487)])
squiggle(ax, [(0.238, 0.645), (0.241, 0.591), (0.253, 0.578), (0.258, 0.557), (0.263, 0.500)])
squiggle(ax, [(0.757, 0.838), (0.739, 0.811), (0.762, 0.787), (0.727, 0.736)])

fig.savefig("out.png", dpi=100)
